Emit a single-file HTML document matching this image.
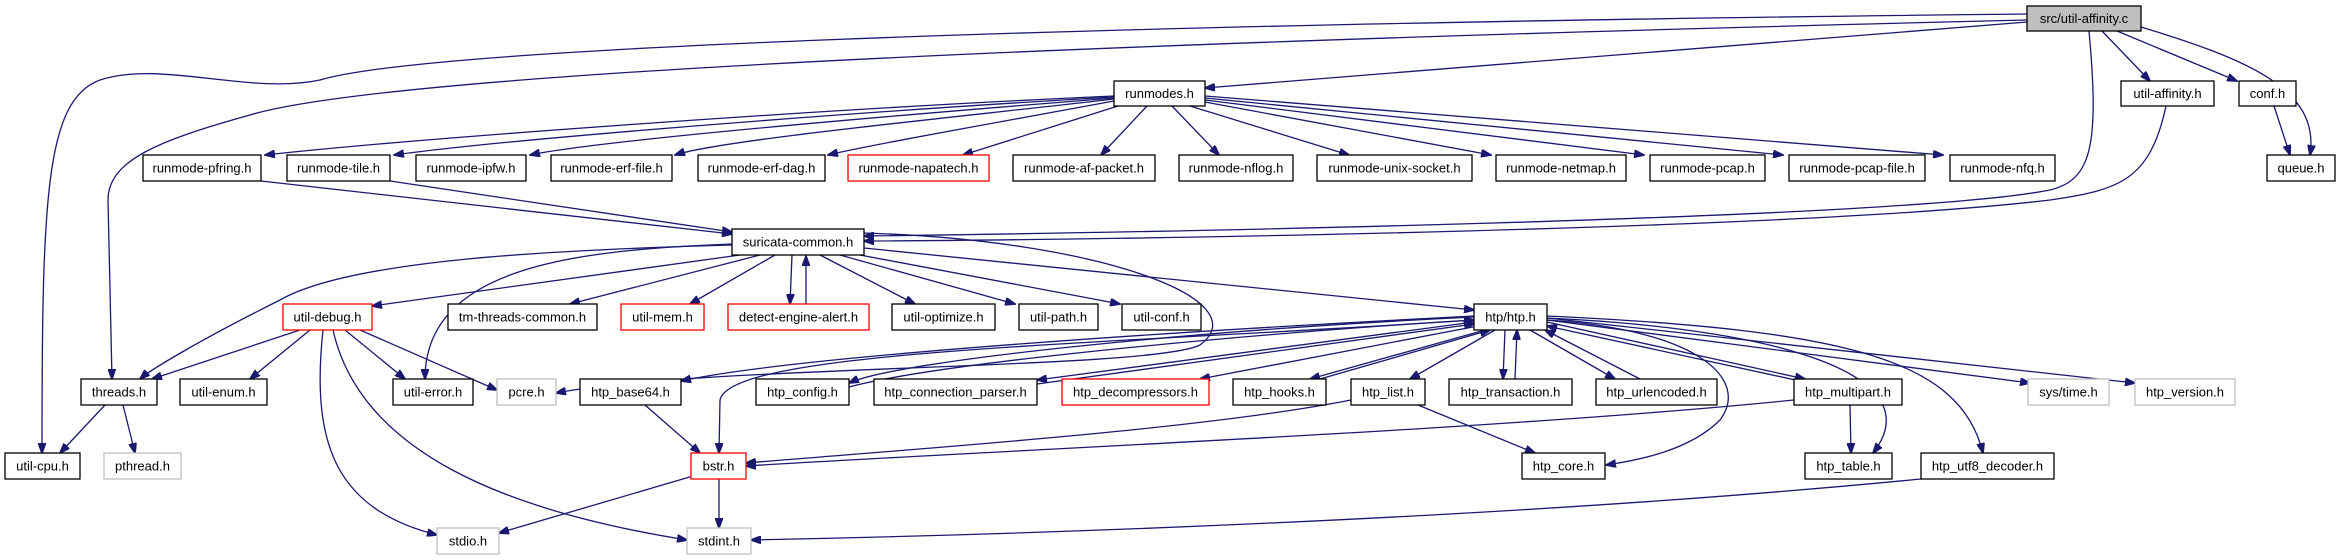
<!DOCTYPE html>
<html><head><meta charset="utf-8"><style>
html,body{margin:0;padding:0;background:#fff;}
svg{display:block;}
text{font-family:"Liberation Sans",sans-serif;font-size:13px;text-anchor:middle;dominant-baseline:central;fill:#000;}
.n{fill:#fff;stroke:#000;stroke-width:1.3;}
.r{fill:#fff;stroke:#f00;stroke-width:1.3;}
.g{fill:#fff;stroke:#bfbfbf;stroke-width:1.3;}
path{fill:none;stroke:#191970;stroke-width:1.3;}
</style></head><body>
<svg width="2341" height="560" viewBox="0 0 2341 560" xmlns="http://www.w3.org/2000/svg">
<defs><marker id="a" markerWidth="11" markerHeight="8" refX="10" refY="4" orient="auto" markerUnits="userSpaceOnUse"><polygon points="0,0 11,4 0,8" fill="#191970" stroke="#191970"/></marker></defs>
<g marker-end="url(#a)">
<path d="M2027,22 L1205,88"/>
<path d="M2027,14 C1000,25 420,50 320,80 C250,95 160,60 100,80 C45,100 42,200 42,453"/>
<path d="M2027,20 C1200,40 400,70 250,115 C160,140 108,160 108,200 L112,379"/>
<path d="M2089,31 C2100,150 2090,180 2050,190 C1900,220 1100,233 864,236"/>
<path d="M2102,31 L2150,81"/>
<path d="M2117,31 L2237,81"/>
<path d="M2141,27 C2250,60 2320,90 2310,155"/>
<path d="M2274,106 L2290,155"/>
<path d="M2166,106 C2150,180 2120,190 2050,200 C1800,230 1100,240 864,241"/>
<path d="M1114,96 C800,110 400,140 265,155"/>
<path d="M1114,97 C850,112 500,140 394,155"/>
<path d="M1114,98 C900,115 600,140 530,155"/>
<path d="M1114,99 C950,118 720,140 675,155"/>
<path d="M1114,101 C1000,122 870,145 828,155"/>
<path d="M1118,106 L963,155"/>
<path d="M1147,106 L1101,155"/>
<path d="M1172,106 L1219,155"/>
<path d="M1190,106 L1349,155"/>
<path d="M1205,102 L1491,155"/>
<path d="M1205,100 L1644,155"/>
<path d="M1205,98 L1783,155"/>
<path d="M1205,96 L1943,155"/>
<path d="M261,181 L732,234"/>
<path d="M390,181 L732,232"/>
<path d="M732,245 C550,250 350,260 280,300 C200,340 150,370 140,379"/>
<path d="M740,255 L372,306"/>
<path d="M732,244 C580,250 425,265 425,379"/>
<path d="M760,255 L570,304"/>
<path d="M775,255 L690,304"/>
<path d="M792,255 L790,304"/>
<path d="M806,304 L806,256"/>
<path d="M820,255 L915,304"/>
<path d="M840,255 L1015,304"/>
<path d="M860,255 L1120,304"/>
<path d="M864,248 L1474,310"/>
<path d="M864,233 C1100,240 1260,300 1200,345 C1150,370 700,365 556,393"/>
<path d="M1474,316 C1200,330 800,355 681,381"/>
<path d="M1474,317 C1200,330 900,360 849,383"/>
<path d="M849,387 C950,360 1300,330 1474,320"/>
<path d="M1474,322 L1037,380"/>
<path d="M1037,384 L1474,324"/>
<path d="M1478,326 L1200,379"/>
<path d="M1485,330 L1310,379"/>
<path d="M1320,379 L1490,330"/>
<path d="M1495,330 L1410,379"/>
<path d="M1505,330 L1503,379"/>
<path d="M1515,379 L1517,330"/>
<path d="M1530,330 L1615,379"/>
<path d="M1640,379 L1545,330"/>
<path d="M1547,322 L1805,379"/>
<path d="M1800,381 L1547,326"/>
<path d="M1547,320 L2030,383"/>
<path d="M1547,318 L2135,383"/>
<path d="M1547,320 C1700,330 1750,380 1720,420 C1690,450 1640,460 1606,465"/>
<path d="M1547,318 C1800,330 1930,380 1873,453"/>
<path d="M1547,316 C1850,330 1960,360 1983,453"/>
<path d="M1474,320 C1100,345 730,350 720,400 L719,453"/>
<path d="M645,405 L700,453"/>
<path d="M1351,400 C1200,430 900,450 746,463"/>
<path d="M1418,405 L1535,453"/>
<path d="M1794,400 C1500,430 1000,450 746,466"/>
<path d="M1850,405 L1851,453"/>
<path d="M693,476 L499,533"/>
<path d="M719,479 L719,528"/>
<path d="M1921,479 C1500,520 1000,535 751,540"/>
<path d="M300,330 L152,379"/>
<path d="M310,330 L250,379"/>
<path d="M345,330 L405,379"/>
<path d="M360,330 L497,390"/>
<path d="M323,330 C310,450 340,510 437,535"/>
<path d="M333,330 C360,450 500,510 687,540"/>
<path d="M105,405 L60,453"/>
<path d="M123,405 L135,453"/>
</g>
<rect x="2027" y="6" width="114" height="25" fill="#bfbfbf" stroke="#000" stroke-width="1.3"/><text x="2084" y="18.5">src/util-affinity.c</text>
<rect class="n" x="1114" y="81" width="91" height="25"/><text x="1159.5" y="93.5">runmodes.h</text>
<rect class="n" x="2121" y="81" width="93" height="25"/><text x="2167.5" y="93.5">util-affinity.h</text>
<rect class="n" x="2239" y="81" width="57" height="25"/><text x="2267.5" y="93.5">conf.h</text>
<rect class="n" x="143" y="155" width="118" height="26"/><text x="202" y="168">runmode-pfring.h</text>
<rect class="n" x="287" y="155" width="103" height="26"/><text x="338.5" y="168">runmode-tile.h</text>
<rect class="n" x="416" y="155" width="110" height="26"/><text x="471" y="168">runmode-ipfw.h</text>
<rect class="n" x="551" y="155" width="121" height="26"/><text x="611.5" y="168">runmode-erf-file.h</text>
<rect class="n" x="698" y="155" width="127" height="26"/><text x="761.5" y="168">runmode-erf-dag.h</text>
<rect class="r" x="848" y="155" width="141" height="26"/><text x="918.5" y="168">runmode-napatech.h</text>
<rect class="n" x="1013" y="155" width="142" height="26"/><text x="1084" y="168">runmode-af-packet.h</text>
<rect class="n" x="1179" y="155" width="114" height="26"/><text x="1236" y="168">runmode-nflog.h</text>
<rect class="n" x="1317" y="155" width="155" height="26"/><text x="1394.5" y="168">runmode-unix-socket.h</text>
<rect class="n" x="1496" y="155" width="130" height="26"/><text x="1561" y="168">runmode-netmap.h</text>
<rect class="n" x="1650" y="155" width="115" height="26"/><text x="1707.5" y="168">runmode-pcap.h</text>
<rect class="n" x="1789" y="155" width="136" height="26"/><text x="1857" y="168">runmode-pcap-file.h</text>
<rect class="n" x="1950" y="155" width="105" height="26"/><text x="2002.5" y="168">runmode-nfq.h</text>
<rect class="n" x="2267" y="155" width="68" height="26"/><text x="2301" y="168">queue.h</text>
<rect class="n" x="732" y="229" width="132" height="26"/><text x="798" y="242">suricata-common.h</text>
<rect class="r" x="283" y="304" width="89" height="26"/><text x="327.5" y="317">util-debug.h</text>
<rect class="n" x="448" y="304" width="149" height="26"/><text x="522.5" y="317">tm-threads-common.h</text>
<rect class="r" x="621" y="304" width="83" height="26"/><text x="662.5" y="317">util-mem.h</text>
<rect class="r" x="728" y="304" width="141" height="26"/><text x="798.5" y="317">detect-engine-alert.h</text>
<rect class="n" x="892" y="304" width="103" height="26"/><text x="943.5" y="317">util-optimize.h</text>
<rect class="n" x="1019" y="304" width="79" height="26"/><text x="1058.5" y="317">util-path.h</text>
<rect class="n" x="1122" y="304" width="79" height="26"/><text x="1161.5" y="317">util-conf.h</text>
<rect class="n" x="1474" y="304" width="73" height="26"/><text x="1510.5" y="317">htp/htp.h</text>
<rect class="n" x="81" y="379" width="76" height="26"/><text x="119" y="392">threads.h</text>
<rect class="n" x="180" y="379" width="87" height="26"/><text x="223.5" y="392">util-enum.h</text>
<rect class="n" x="393" y="379" width="80" height="26"/><text x="433" y="392">util-error.h</text>
<rect class="g" x="497" y="379" width="59" height="26"/><text x="526.5" y="392">pcre.h</text>
<rect class="n" x="580" y="379" width="101" height="26"/><text x="630.5" y="392">htp_base64.h</text>
<rect class="n" x="756" y="379" width="93" height="26"/><text x="802.5" y="392">htp_config.h</text>
<rect class="n" x="874" y="379" width="163" height="26"/><text x="955.5" y="392">htp_connection_parser.h</text>
<rect class="r" x="1062" y="379" width="147" height="26"/><text x="1135.5" y="392">htp_decompressors.h</text>
<rect class="n" x="1233" y="379" width="93" height="26"/><text x="1279.5" y="392">htp_hooks.h</text>
<rect class="n" x="1351" y="379" width="74" height="26"/><text x="1388" y="392">htp_list.h</text>
<rect class="n" x="1449" y="379" width="123" height="26"/><text x="1510.5" y="392">htp_transaction.h</text>
<rect class="n" x="1596" y="379" width="121" height="26"/><text x="1656.5" y="392">htp_urlencoded.h</text>
<rect class="n" x="1794" y="379" width="108" height="26"/><text x="1848" y="392">htp_multipart.h</text>
<rect class="g" x="2028" y="379" width="81" height="26"/><text x="2068.5" y="392">sys/time.h</text>
<rect class="g" x="2135" y="379" width="100" height="26"/><text x="2185" y="392">htp_version.h</text>
<rect class="n" x="5" y="453" width="75" height="26"/><text x="42.5" y="466">util-cpu.h</text>
<rect class="g" x="104" y="453" width="77" height="26"/><text x="142.5" y="466">pthread.h</text>
<rect class="r" x="691" y="453" width="55" height="26"/><text x="718.5" y="466">bstr.h</text>
<rect class="n" x="1522" y="453" width="83" height="26"/><text x="1563.5" y="466">htp_core.h</text>
<rect class="n" x="1805" y="453" width="87" height="26"/><text x="1848.5" y="466">htp_table.h</text>
<rect class="n" x="1921" y="453" width="133" height="26"/><text x="1987.5" y="466">htp_utf8_decoder.h</text>
<rect class="g" x="437" y="528" width="62" height="26"/><text x="468" y="541">stdio.h</text>
<rect class="g" x="687" y="528" width="64" height="26"/><text x="719" y="541">stdint.h</text>
</svg>
</body></html>
